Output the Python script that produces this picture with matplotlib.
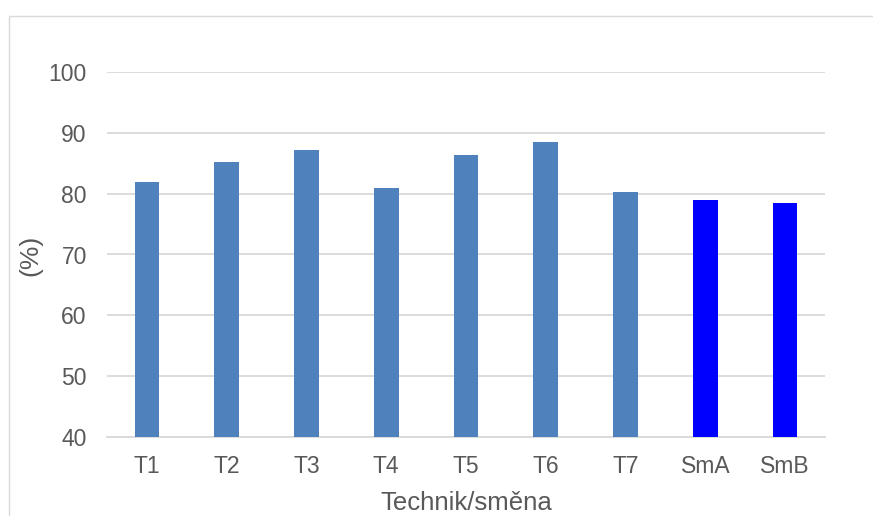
import matplotlib
matplotlib.use("Agg")
import matplotlib.pyplot as plt
from matplotlib.patches import Rectangle

plt.rcParams['font.family'] = ['Liberation Sans', 'DejaVu Sans']

categories = ["T1", "T2", "T3", "T4", "T5", "T6", "T7", "SmA", "SmB"]
values = [82.0, 85.2, 87.1, 81.0, 86.3, 88.5, 80.3, 78.9, 78.5]
colors = ["#4F81BD"] * 7 + ["#0000FF"] * 2
yticks = [40, 50, 60, 70, 80, 90, 100]

W, H = 873, 516
fig = plt.figure(figsize=(W / 100, H / 100), dpi=100)

# outer chart frame
fig.patches.append(Rectangle((9 / W, -0.1), 1.2, 1 - 16 / H + 0.1,
                             transform=fig.transFigure, fill=False,
                             edgecolor="#D9D9D9", linewidth=1.0))

ax = fig.add_axes([107 / W, 1 - 437 / H, (825 - 107) / W, (437 - 72) / H])
x = range(len(categories))
ax.bar(x, [v - 40 for v in values], bottom=40, width=0.31, color=colors, zorder=3)

ax.set_xlim(-0.5, len(categories) - 0.5)
ax.set_ylim(40, 100)
ax.set_yticks(yticks)
ax.set_xticks(list(x))
ax.set_xticklabels(categories)
ax.grid(axis="y", color="#D9D9D9", linewidth=1.3, zorder=0)
for s in ["top", "right", "left"]:
    ax.spines[s].set_visible(False)
ax.spines["bottom"].set_color("#D9D9D9")
ax.spines["bottom"].set_linewidth(1.3)
ax.tick_params(axis="both", length=0, labelsize=16.5, colors="#595959")
ax.tick_params(axis="y", pad=14.5)
ax.tick_params(axis="x", pad=13)

fig.text(466 / W, 1 - 510 / H, "Technik/směna", fontsize=18.5, color="#595959",
         ha="center", va="baseline")
fig.text(30.5 / W, 1 - 255 / H, "(%)", fontsize=19, color="#595959",
         ha="center", va="center", rotation=90)

fig.savefig("out.png", dpi=100)
